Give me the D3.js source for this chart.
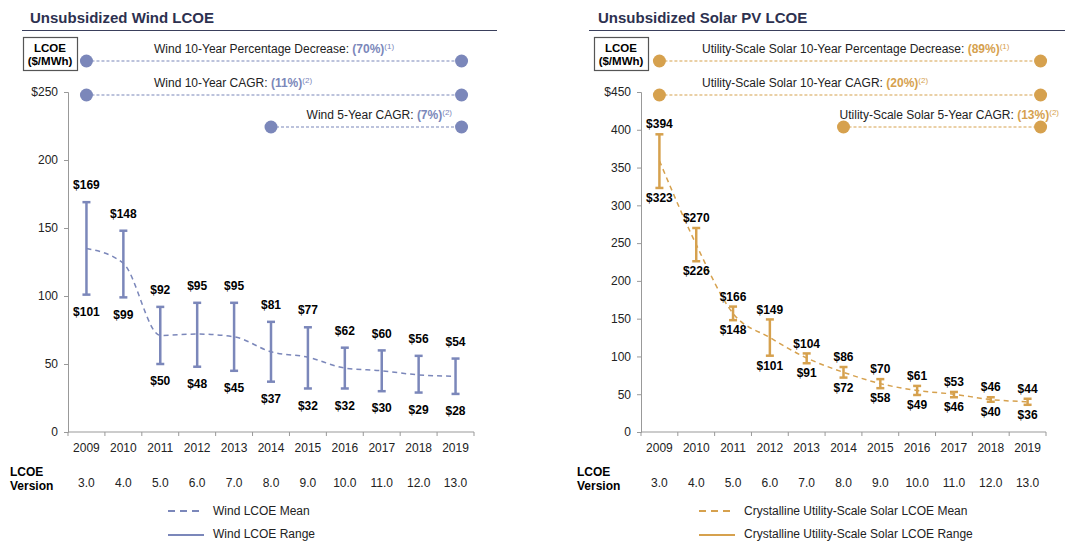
<!DOCTYPE html>
<html>
<head>
<meta charset="utf-8">
<script src="https://cdn.jsdelivr.net/npm/d3@7"></script>
<style>
  body { margin: 0; background: #fff; }
  text { font-family: "Liberation Sans", Arial, sans-serif; }
</style>
</head>
<body>
<div id="chart"></div>
<script>
// data
const years = ["2009", "2010", "2011", "2012", "2013", "2014", "2015", "2016", "2017", "2018", "2019"];
const versions = ["3.0", "4.0", "5.0", "6.0", "7.0", "8.0", "9.0", "10.0", "11.0", "12.0", "13.0"];

const windHigh = [169, 148, 92, 95, 95, 81, 77, 62, 60, 56, 54];
const windLow = [101, 99, 50, 48, 45, 37, 32, 32, 30, 29, 28];
const windMean = [135, 124, 71, 72, 70, 59, 55, 47, 45, 42, 41];
const windTicks = [0, 50, 100, 150, 200, 250];

const solarHigh = [394, 270, 166, 149, 104, 86, 70, 61, 53, 46, 44];
const solarLow = [323, 226, 148, 101, 91, 72, 58, 49, 46, 40, 36];
const solarMean = [359, 248, 157, 125, 98, 79, 64, 55, 50, 43, 40];
const solarTicks = [0, 50, 100, 150, 200, 250, 300, 350, 400, 450];

const windNotes = [
  {label: "Wind 10-Year Percentage Decrease: ", value: "(70%)", sup: "(1)", from: "2009"},
  {label: "Wind 10-Year CAGR: ", value: "(11%)", sup: "(2)", from: "2009"},
  {label: "Wind 5-Year CAGR: ", value: "(7%)", sup: "(2)", from: "2014"}
];
const solarNotes = [
  {label: "Utility-Scale Solar 10-Year Percentage Decrease: ", value: "(89%)", sup: "(1)", from: "2009"},
  {label: "Utility-Scale Solar 10-Year CAGR: ", value: "(20%)", sup: "(2)", from: "2009"},
  {label: "Utility-Scale Solar 5-Year CAGR: ", value: "(13%)", sup: "(2)", from: "2014"}
];

const width = 1065, height = 541;
const svg = d3.select("#chart").append("svg")
    .attr("width", width)
    .attr("height", height);

function drawPanel(opt) {
    let g = svg.append("g");

    let x = d3.scaleBand()
        .domain(years)
        .range([opt.left, opt.right]);

    let y = d3.scaleLinear()
        .domain([0, opt.max])
        .range([432, 92]);

    let cx = d => x(d) + x.bandwidth() / 2;

    // title + rule
    g.append("text")
        .attr("x", opt.titleX)
        .attr("y", 23)
        .style("font-size", "15px")
        .style("font-weight", "bold")
        .attr("fill", "#2d3150")
        .text(opt.title);
    g.append("line")
        .attr("x1", opt.ruleX1).attr("x2", opt.ruleX2)
        .attr("y1", 30.5).attr("y2", 30.5)
        .attr("stroke", "#3a3f5c")
        .attr("stroke-width", 1);

    // LCOE box
    g.append("rect")
        .attr("x", opt.boxX + 0.5).attr("y", 37.5)
        .attr("width", 54).attr("height", 33)
        .attr("fill", "#fff")
        .attr("stroke", "#555")
        .attr("stroke-width", 1.2);
    g.append("text")
        .attr("x", opt.boxX + 27).attr("y", 52)
        .attr("text-anchor", "middle")
        .style("font-size", "11.5px").style("font-weight", "bold")
        .text("LCOE");
    g.append("text")
        .attr("x", opt.boxX + 27).attr("y", 65)
        .attr("text-anchor", "middle")
        .style("font-size", "11.5px").style("font-weight", "bold")
        .text("($/MWh)");

    // y axis
    let yAxis = g.append("g")
        .attr("transform", `translate(${opt.left},0)`)
        .call(d3.axisLeft(y).tickValues(opt.ticks).tickSize(4).tickPadding(6)
            .tickFormat((d, i) => i === opt.ticks.length - 1 ? "$" + d : d));
    yAxis.select(".domain").attr("stroke", "#999");
    yAxis.selectAll(".tick line").attr("stroke", "#999");
    yAxis.selectAll("text").style("font-size", "12px").attr("fill", "#222")
        .style("font-family", "Liberation Sans, Arial, sans-serif");

    // x axis: ticks on band edges
    let xAxis = g.append("g").attr("transform", "translate(0,432)");
    xAxis.append("line")
        .attr("x1", opt.left).attr("x2", opt.right)
        .attr("stroke", "#999");
    let edges = years.map(d => x(d)).concat([opt.right]);
    xAxis.selectAll(".edge").data(edges).enter()
        .append("line")
        .attr("x1", d => d).attr("x2", d => d)
        .attr("y1", 0).attr("y2", 4)
        .attr("stroke", "#999");
    xAxis.selectAll(".yr").data(years).enter()
        .append("text")
        .attr("x", d => cx(d))
        .attr("y", 20)
        .attr("text-anchor", "middle")
        .style("font-size", "12px")
        .attr("fill", "#222")
        .text(d => d);

    // LCOE version row
    g.append("text").attr("x", opt.verX).attr("y", 476)
        .style("font-size", "12px").style("font-weight", "bold").text("LCOE");
    g.append("text").attr("x", opt.verX).attr("y", 490)
        .style("font-size", "12px").style("font-weight", "bold").text("Version");
    g.selectAll(".ver").data(versions).enter()
        .append("text")
        .attr("x", (d, i) => cx(years[i]))
        .attr("y", 487)
        .attr("text-anchor", "middle")
        .style("font-size", "12px")
        .attr("fill", "#222")
        .text(d => d);

    // annotation rows
    let rowY = [61, 95, 127];
    let endX = cx("2019") + opt.dotPad;
    opt.notes.forEach((n, i) => {
        let x0 = cx(n.from);
        g.append("line")
            .attr("x1", x0).attr("x2", endX)
            .attr("y1", rowY[i]).attr("y2", rowY[i])
            .attr("stroke", opt.color)
            .attr("stroke-width", 1.2)
            .attr("stroke-dasharray", "3,2");
        g.selectAll(null).data([x0, endX]).enter()
            .append("circle")
            .attr("cx", d => d).attr("cy", rowY[i])
            .attr("r", 6.5)
            .attr("fill", opt.color);
        let t = g.append("text")
            .attr("y", rowY[i] - 8)
            .style("font-size", "12px")
            .attr("fill", "#222");
        if (i < 2) t.attr("x", opt.noteX);
        else t.attr("x", opt.note3X).attr("text-anchor", "end");
        t.append("tspan").text(n.label);
        t.append("tspan").attr("fill", opt.color).style("font-weight", "bold").text(n.value);
        t.append("tspan").attr("fill", opt.color).attr("dy", -4).style("font-size", "8px").text(n.sup);
    });

    // mean line
    let line = d3.line()
        .x((d, i) => cx(years[i]))
        .y(d => y(d))
        .curve(d3.curveMonotoneX);
    g.append("path")
        .datum(opt.mean)
        .attr("d", line)
        .attr("fill", "none")
        .attr("stroke", opt.color)
        .attr("stroke-width", 1.5)
        .attr("stroke-dasharray", "5,4");

    // range bars
    let bars = g.selectAll(".bar").data(years).enter().append("g");
    bars.append("line")
        .attr("x1", d => cx(d)).attr("x2", d => cx(d))
        .attr("y1", (d, i) => y(opt.high[i]))
        .attr("y2", (d, i) => y(opt.low[i]))
        .attr("stroke", opt.color).attr("stroke-width", 2.5);
    ["high", "low"].forEach(k => {
        bars.append("line")
            .attr("x1", d => cx(d) - 4).attr("x2", d => cx(d) + 4)
            .attr("y1", (d, i) => y(opt[k][i]))
            .attr("y2", (d, i) => y(opt[k][i]))
            .attr("stroke", opt.color).attr("stroke-width", 2.5);
    });

    // value labels
    bars.append("text")
        .attr("x", d => cx(d))
        .attr("y", (d, i) => y(opt.high[i]) - opt.labUp)
        .attr("text-anchor", "middle")
        .attr("dominant-baseline", "middle")
        .style("font-size", "12px").style("font-weight", "bold")
        .text((d, i) => "$" + opt.high[i]);
    bars.append("text")
        .attr("x", d => cx(d))
        .attr("y", (d, i) => y(opt.low[i]) + opt.labDown)
        .attr("text-anchor", "middle")
        .attr("dominant-baseline", "middle")
        .style("font-size", "12px").style("font-weight", "bold")
        .text((d, i) => "$" + opt.low[i]);

    // legend
    let lg = g.append("g");
    lg.append("line")
        .attr("x1", opt.legX).attr("x2", opt.legX + 36)
        .attr("y1", 511).attr("y2", 511)
        .attr("stroke", opt.color).attr("stroke-width", 2)
        .attr("stroke-dasharray", "7,5");
    lg.append("text").attr("x", opt.legX + 45).attr("y", 515)
        .style("font-size", "12px").attr("fill", "#222")
        .text(opt.legMean);
    lg.append("line")
        .attr("x1", opt.legX).attr("x2", opt.legX + 36)
        .attr("y1", 535).attr("y2", 535)
        .attr("stroke", opt.color).attr("stroke-width", 2);
    lg.append("text").attr("x", opt.legX + 45).attr("y", 538)
        .style("font-size", "12px").attr("fill", "#222")
        .text(opt.legRange);
}

drawPanel({
    title: "Unsubsidized Wind LCOE",
    titleX: 30, ruleX1: 22, ruleX2: 497, boxX: 23,
    left: 68, right: 474, max: 250, ticks: windTicks,
    high: windHigh, low: windLow, mean: windMean,
    color: "#7b87ba", notes: windNotes,
    noteX: 154, note3X: 452, dotPad: 6,
    labUp: 16, labDown: 18, verX: 10,
    legX: 168, legMean: "Wind LCOE Mean", legRange: "Wind LCOE Range"
});

drawPanel({
    title: "Unsubsidized Solar PV LCOE",
    titleX: 598, ruleX1: 589, ruleX2: 1065, boxX: 594,
    left: 641, right: 1046, max: 450, ticks: solarTicks,
    high: solarHigh, low: solarLow, mean: solarMean,
    color: "#d6a14e", notes: solarNotes,
    noteX: 702, note3X: 1059, dotPad: 13,
    labUp: 9, labDown: 11, verX: 577,
    legX: 699, legMean: "Crystalline Utility-Scale Solar LCOE Mean",
    legRange: "Crystalline Utility-Scale Solar LCOE Range"
});
</script>
</body>
</html>
